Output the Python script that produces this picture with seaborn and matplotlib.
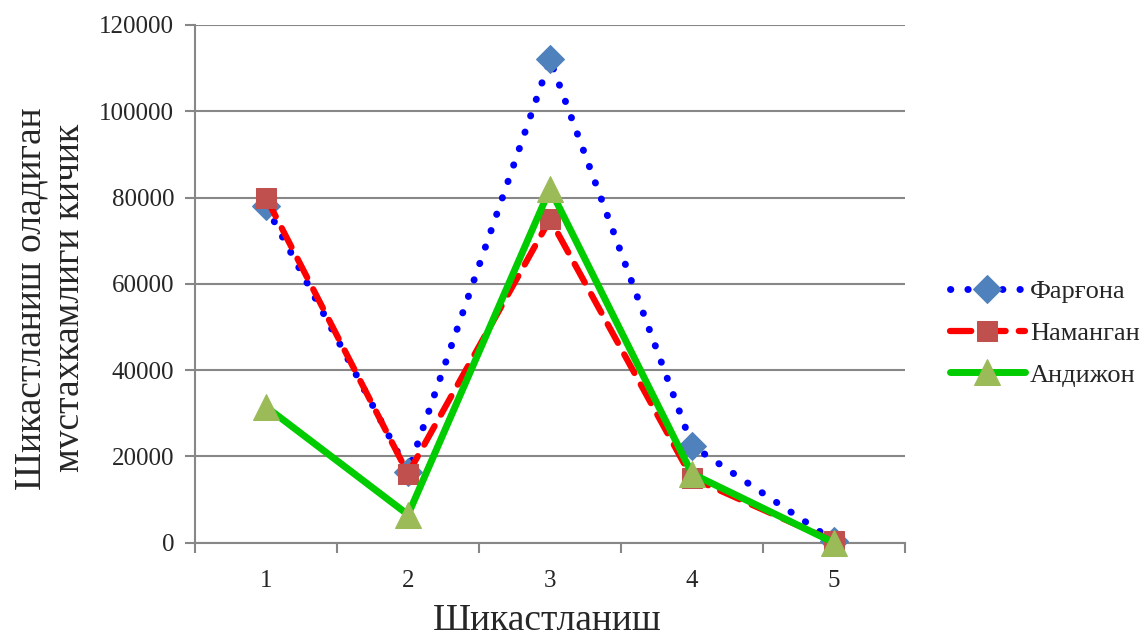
import numpy as np
import pandas as pd
import matplotlib
matplotlib.use("Agg")
import matplotlib.pyplot as plt
import seaborn as sns

# data
categories = [1, 2, 3, 4, 5]
fargona = [78000, 16500, 112000, 22500, 400]
namangan = [80000, 16000, 75000, 15000, 300]
andijon = [31500, 6500, 82000, 16000, 0]
series_names = ["Фарғона", "Наманган", "Андижон"]
y_ticks = [0, 20000, 40000, 60000, 80000, 100000, 120000]

df = pd.DataFrame({
    "x": categories * 3,
    "y": fargona + namangan + andijon,
    "region": np.repeat(series_names, len(categories)),
})

sns.set_theme(style="white")
plt.rcParams["font.family"] = ["Liberation Serif", "DejaVu Serif"]

fig = plt.figure(figsize=(11.44, 6.4), dpi=100)
ax = fig.add_axes([0.1705, 0.152, 0.6206, 0.809])

styles = {
    "Фарғона": dict(color="#0000FF", ls=(0, (0.05, 2.45)), lw=5.0, marker="D",
                    mfc="#4F81BD", ms=14),
    "Наманган": dict(color="#FF0000", ls=(0, (3.4, 2.1)), lw=4.5, marker="s",
                     mfc="#C0504D", ms=15),
    "Андижон": dict(color="#00CC00", ls="-", lw=5.0, marker="^",
                    mfc="#9BBB59", ms=19),
}

for i, name in enumerate(series_names):
    st = styles[name]
    sub = df[df["region"] == name]
    sns.lineplot(data=sub, x="x", y="y", ax=ax, color=st["color"], lw=st["lw"],
                 linestyle=st["ls"], label=name, zorder=3 + i)
    line = ax.lines[-1]
    line.set_marker(st["marker"])
    line.set_markerfacecolor(st["mfc"])
    line.set_markeredgecolor(st["mfc"])
    line.set_markersize(st["ms"])
    line.set_dash_capstyle("round")
    line.set_solid_capstyle("round")
    line.set_clip_on(False)

ax.set_xlim(0.5, 5.5)
ax.set_ylim(0, 120000)
ax.set_yticks(y_ticks)
ax.set_yticklabels([str(v) for v in y_ticks], fontsize=18)
ax.set_xticks(categories)
ax.set_xticklabels([str(c) for c in categories], fontsize=18)
ax.set_xticks(np.arange(0.5, 6.0, 1.0), minor=True)
ax.tick_params(axis="x", which="major", length=0, pad=20)
ax.tick_params(axis="x", which="minor", length=7, width=1.5, color="#878787",
               direction="out", bottom=True)
ax.tick_params(axis="y", length=7, width=1.5, color="#878787", direction="out",
               left=True, pad=8)

ax.grid(axis="y", color="#878787", lw=1.5)
ax.grid(axis="x", visible=False)
ax.set_axisbelow(True)
for side in ["top", "right"]:
    ax.spines[side].set_visible(False)
for side in ["left", "bottom"]:
    ax.spines[side].set_color("#878787")
    ax.spines[side].set_linewidth(1.5)

ax.set_xlabel("")
ax.set_ylabel("")
fig.text(0.478, 0.016, "Шикастланиш", fontsize=27, ha="center", va="baseline")
fig.text(0.044, 0.534, "Шикастланиш оладиган\nмvстахкамлиги кичик", fontsize=27,
         rotation=90, ha="center", va="center", multialignment="center",
         linespacing=1.15)

ax.legend(loc="center left", bbox_to_anchor=(1.063, 0.405), frameon=False,
          fontsize=19, handlelength=2.85, handletextpad=0.2, labelspacing=0.7,
          borderaxespad=0, borderpad=0)

fig.savefig("out.png", dpi=100)
